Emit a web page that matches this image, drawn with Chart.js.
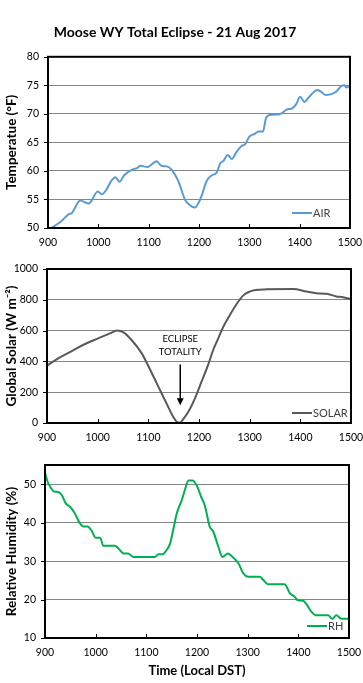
<!doctype html>
<html>
<head>
  <title>Moose WY Total Eclipse</title>
  <script src="https://cdn.jsdelivr.net/npm/chart.js@4/dist/chart.umd.min.js"></script>
  <style>
    html, body { margin: 0; padding: 0; background: #fff; }
    #wrap { position: relative; width: 363px; height: 683px; }
    .panel { position: absolute; left: 0; width: 363px; }
  </style>
</head>
<body>
<div id="wrap">
  <div class="panel" style="top:0;height:258px"><canvas id="airChart" width="363" height="258"></canvas></div>
  <div class="panel" style="top:258px;height:200px"><canvas id="solarChart" width="363" height="200"></canvas></div>
  <div class="panel" style="top:458px;height:225px"><canvas id="rhChart" width="363" height="225"></canvas></div>
</div>
<script>
  // time axis is HHMM read as a plain number
  var xTicks = [900, 1000, 1100, 1200, 1300, 1400, 1500];

  var airTime = [908, 924, 941, 947, 964, 981, 999, 1007, 1016, 1026, 1034, 1042, 1051, 1066, 1077, 1084, 1098,
    1116, 1125, 1136, 1146, 1159, 1172, 1182, 1192, 1199, 1205, 1215, 1225, 1235, 1242, 1249, 1257, 1265, 1275,
    1285, 1292, 1300, 1311, 1318, 1327, 1333, 1341, 1358, 1364, 1376, 1384, 1393, 1401, 1409, 1420, 1435, 1442,
    1452, 1467, 1473, 1483, 1489, 1493, 1500];
  var airTemp = [50.1, 51.0, 52.4, 52.6, 54.8, 54.3, 56.4, 55.9, 56.7, 58.3, 58.9, 58.1, 59.2, 60.2, 60.5, 60.9, 60.7,
    61.7, 60.9, 60.8, 60.2, 58.2, 55.0, 54.0, 53.6, 54.4, 55.6, 58.2, 59.2, 59.7, 61.3, 61.8, 62.8, 62.1, 63.4,
    64.4, 64.7, 66.0, 66.5, 66.9, 66.9, 69.2, 69.8, 69.9, 70.1, 70.8, 70.9, 71.7, 73.0, 72.1, 73.1, 74.2, 73.9,
    73.3, 73.6, 73.9, 74.9, 75.0, 74.6, 75.0];

  var solarTime = [900, 922, 949, 975, 1001, 1024, 1038, 1051, 1067, 1087, 1107, 1123, 1139, 1149, 1156, 1163,
    1166, 1179, 1192, 1205, 1218, 1228, 1238, 1248, 1261, 1274, 1287, 1297, 1311, 1334, 1386, 1412, 1432, 1452,
    1471, 1484, 1500];
  var solarW = [372, 420, 467, 513, 550, 582, 600, 589, 539, 452, 323, 214, 106, 41, 8, 2,
    13, 73, 160, 268, 377, 474, 550, 625, 701, 771, 827, 849, 864, 868, 870, 854, 843, 839,
    822, 817, 804];

  var rhTime = [900, 905, 910, 918, 926, 933, 941, 949, 959, 968, 976, 984, 992, 1000, 1009, 1015, 1038, 1045, 1055,
    1064, 1074, 1117, 1124, 1132, 1140, 1147, 1153, 1160, 1170, 1176, 1183, 1191, 1199, 1208, 1216, 1225, 1232,
    1242, 1250, 1261, 1270, 1282, 1291, 1301, 1324, 1330, 1340, 1373, 1383, 1393, 1399, 1409, 1416, 1426, 1434,
    1459, 1467, 1475, 1485, 1500];
  var rhPct = [53.0, 50.7, 49.4, 48.1, 48.0, 47.2, 45.0, 44.2, 42.4, 40.0, 39.0, 39.0, 37.9, 36.1, 36.1, 34.0, 34.0, 33.3, 32.0,
    32.0, 31.1, 31.1, 31.8, 31.8, 32.9, 34.6, 38.1, 42.4, 45.9, 48.5, 51.0, 51.0, 49.8, 46.8, 44.2, 39.0, 37.7,
    33.8, 31.1, 32.0, 31.1, 29.4, 26.9, 25.9, 25.9, 25.2, 24.0, 24.0, 21.7, 20.7, 19.8, 19.7, 18.8, 16.8, 15.9,
    15.9, 15.0, 15.9, 15.0, 15.0];

  var FONT = "Lato, 'Open Sans', sans-serif";

  function pairs(xs, ys) {
    return xs.map(function (x, i) { return { x: x, y: ys[i] }; });
  }

  // stop the scales from pushing the plot area in for their edge labels
  function noPad(s) {
    s.paddingTop = 0; s.paddingBottom = 0; s.paddingLeft = 0; s.paddingRight = 0;
  }

  // frame, tick marks and in-plot legend, drawn like the spreadsheet original
  var framePlugin = {
    id: 'frame',
    afterDraw: function (chart, args, opts) {
      var ctx = chart.ctx, a = chart.chartArea;
      var xs = chart.scales.x, ys = chart.scales.y;
      ctx.save();
      ctx.strokeStyle = '#000';
      ctx.lineWidth = 1;
      xs.ticks.forEach(function (t) {
        var px = Math.round(xs.getPixelForValue(t.value)) + 0.5;
        ctx.beginPath(); ctx.moveTo(px, a.bottom); ctx.lineTo(px, a.bottom - 4); ctx.stroke();
      });
      ys.ticks.forEach(function (t) {
        var py = Math.round(ys.getPixelForValue(t.value)) + 0.5;
        ctx.beginPath(); ctx.moveTo(a.left, py); ctx.lineTo(a.left - 4, py); ctx.stroke();
      });
      ctx.lineWidth = 2;
      ctx.strokeRect(a.left, a.top, a.right - a.left, a.bottom - a.top);

      var ds = chart.data.datasets[0];
      var ly = a.bottom - opts.dy;
      var lx = a.right - opts.dx;
      ctx.strokeStyle = ds.borderColor;
      ctx.lineWidth = 2;
      ctx.beginPath(); ctx.moveTo(lx, ly); ctx.lineTo(lx + 20, ly); ctx.stroke();
      ctx.fillStyle = '#404040';
      ctx.font = '11px ' + FONT;
      ctx.textBaseline = 'middle';
      ctx.textAlign = 'left';
      ctx.fillText(ds.label, lx + 21, ly);
      ctx.restore();
    }
  };

  var eclipseNote = {
    id: 'eclipseNote',
    afterDraw: function (chart) {
      if (chart.canvas.id !== 'solarChart') return;
      var ctx = chart.ctx, xs = chart.scales.x, ys = chart.scales.y;
      var px = xs.getPixelForValue(1163);
      ctx.save();
      ctx.fillStyle = '#000';
      ctx.font = '9.5px ' + FONT;
      ctx.textAlign = 'center';
      ctx.textBaseline = 'middle';
      ctx.fillText('ECLIPSE', px, ys.getPixelForValue(545));
      ctx.fillText('TOTALITY', px, ys.getPixelForValue(460));
      var y0 = ys.getPixelForValue(380), y1 = ys.getPixelForValue(115);
      ctx.strokeStyle = '#000';
      ctx.lineWidth = 1.5;
      ctx.beginPath(); ctx.moveTo(px, y0); ctx.lineTo(px, y1 - 4); ctx.stroke();
      ctx.beginPath(); ctx.moveTo(px - 3.5, y1 - 7); ctx.lineTo(px + 3.5, y1 - 7); ctx.lineTo(px, y1); ctx.closePath(); ctx.fill();
      ctx.restore();
    }
  };

  function makeChart(id, cfg) {
    var ctx = document.getElementById(id).getContext('2d');
    return new Chart(ctx, {
      type: 'line',
      data: {
        datasets: [{
          label: cfg.label,
          data: cfg.data,
          borderColor: cfg.color,
          borderWidth: 2,
          pointRadius: 0,
          cubicInterpolationMode: 'monotone',
          fill: false
        }]
      },
      options: {
        responsive: false,
        animation: false,
        layout: { padding: { left: 0, right: cfg.right, top: cfg.top, bottom: 0 } },
        plugins: {
          legend: { display: false },
          tooltip: { enabled: false },
          title: cfg.title ? {
            display: true,
            text: cfg.title,
            color: '#000',
            font: { family: FONT, size: 14, weight: 'bold' },
            padding: { top: 24, bottom: 16 }
          } : { display: false },
          frame: cfg.legend
        },
        scales: {
          x: {
            type: 'linear',
            min: 900,
            max: 1500,
            afterBuildTicks: function (s) { s.ticks = xTicks.map(function (v) { return { value: v }; }); },
            afterFit: function (s) { s.height = cfg.xHeight; noPad(s); },
            grid: { display: false, drawTicks: false },
            border: { display: false },
            ticks: {
              padding: 8,
              color: '#000',
              font: { family: FONT, size: 10.5 },
              maxRotation: 0,
              callback: function (v) { return String(v); }
            },
            title: cfg.xTitle ? {
              display: true,
              text: cfg.xTitle,
              color: '#000',
              font: { family: FONT, size: 13, weight: 'bold' },
              padding: { top: 0, bottom: 4 }
            } : { display: false }
          },
          y: {
            min: cfg.yMin,
            max: cfg.yMax,
            afterBuildTicks: function (s) { s.ticks = cfg.yTicks.map(function (v) { return { value: v }; }); },
            afterFit: function (s) { s.width = cfg.left; noPad(s); },
            grid: { color: '#868686', lineWidth: 1, drawTicks: false },
            border: { display: false },
            ticks: {
              padding: 9,
              color: '#000',
              font: { family: FONT, size: 10.5 },
              callback: function (v) { return String(v); }
            },
            title: {
              display: true,
              text: cfg.yTitle,
              color: '#000',
              font: { family: FONT, size: 13.5, weight: 'bold' },
              padding: { top: 4, bottom: 2 }
            }
          }
        }
      },
      plugins: [framePlugin, eclipseNote]
    });
  }

  makeChart('airChart', {
    label: 'AIR', data: pairs(airTime, airTemp), color: '#5B9BD5',
    title: 'Moose WY Total Eclipse - 21 Aug 2017',
    top: 0, right: 13, left: 48, xHeight: 30,
    yMin: 50, yMax: 80, yTicks: [50, 55, 60, 65, 70, 75, 80],
    yTitle: 'Temperatue (°F)',
    legend: { dx: 58, dy: 15 }
  });

  makeChart('solarChart', {
    label: 'SOLAR', data: pairs(solarTime, solarW), color: '#595959',
    top: 11, right: 12, left: 47, xHeight: 35,
    yMin: 0, yMax: 1000, yTicks: [0, 200, 400, 600, 800, 1000],
    yTitle: 'Global Solar (W m⁻²)',
    legend: { dx: 59, dy: 10 }
  });

  makeChart('rhChart', {
    label: 'RH', data: pairs(rhTime, rhPct), color: '#00B050',
    top: 7, right: 14, left: 45, xHeight: 45,
    yMin: 10, yMax: 55, yTicks: [10, 20, 30, 40, 50],
    yTitle: 'Relative Humidity (%)',
    xTitle: 'Time (Local DST)',
    legend: { dx: 42, dy: 12 }
  });
</script>
</body>
</html>
